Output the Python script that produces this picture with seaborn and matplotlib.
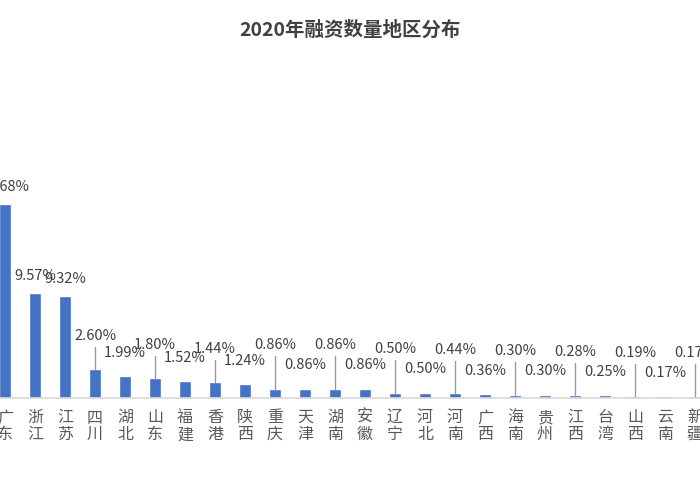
import matplotlib
matplotlib.use("Agg")
import matplotlib.pyplot as plt
import seaborn as sns
import pandas as pd

regions = ["广东", "浙江", "江苏", "四川", "湖北", "山东", "福建", "香港", "陕西",
           "重庆", "天津", "湖南", "安徽", "辽宁", "河北", "河南", "广西", "海南",
           "贵州", "江西", "台湾", "山西", "云南", "新疆"]
shares = [17.68, 9.57, 9.32, 2.60, 1.99, 1.80, 1.52, 1.44, 1.24,
          0.86, 0.86, 0.86, 0.86, 0.50, 0.50, 0.44, 0.36, 0.30,
          0.30, 0.28, 0.25, 0.19, 0.17, 0.17]

sns.set_theme(style="white")
plt.rcParams['font.family'] = ['Noto Sans CJK SC', 'DejaVu Sans']

df = pd.DataFrame({"region": regions, "share": shares})

fig = plt.figure(figsize=(7, 5), dpi=100)
ax = fig.add_axes([0, 0.204, 1, 0.676])
sns.barplot(data=df, x="region", y="share", color="#4472C4", saturation=1,
            width=0.38, ax=ax)
ax.set_xlim(-0.17, 23.17)
ax.set_ylim(0, 30.8)

for i, v in enumerate(shares):
    raised = i >= 3 and i % 2 == 1
    if raised:
        ty = v + (2.4 if i < 9 else 3.3)
        ax.plot([i, i], [v, ty - 0.35], color="#999999", lw=1)
    else:
        ty = v + (0.9 if i < 3 else 1.5)
    ax.text(i, ty, f"{v:.2f}%", ha="center", va="bottom", fontsize=10.5, color="#404040")

ax.set_xticks(range(len(regions)))
ax.set_xticklabels(["\n".join(r) for r in regions], fontsize=11.5, color="#595959",
                   linespacing=1.0)
ax.tick_params(axis="x", length=0, pad=8)
ax.set_yticks([])
ax.set_xlabel("")
ax.set_ylabel("")
for s in ["top", "left", "right"]:
    ax.spines[s].set_visible(False)
ax.spines["bottom"].set_color("#D9D9D9")

fig.text(0.5, 0.94, "2020年融资数量地区分布", ha="center", va="center",
         fontsize=14, fontweight="bold", color="#404040")

fig.savefig("out.png", dpi=100)
